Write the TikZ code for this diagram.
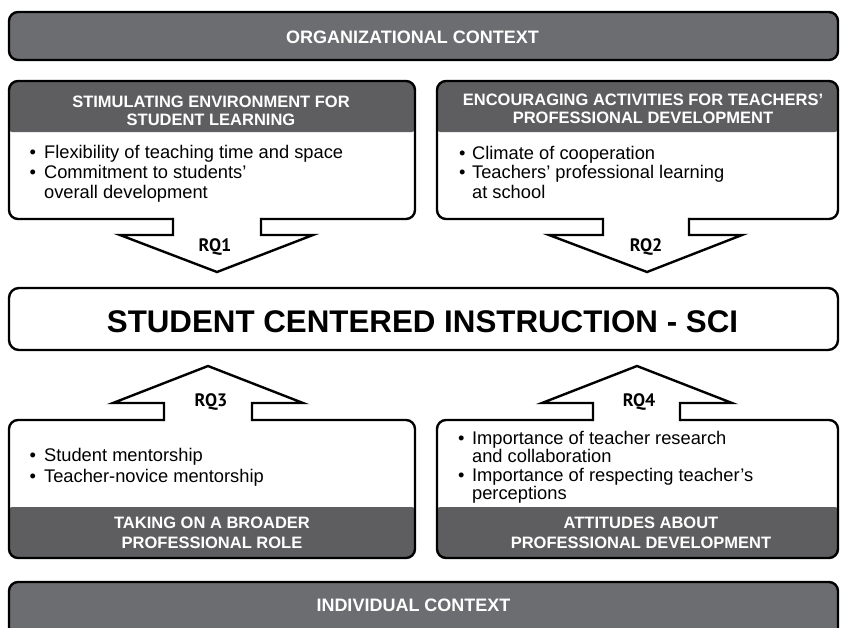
\documentclass[tikz,border=0pt]{standalone}
\usepackage{fontspec}
\setmainfont{Liberation Sans}
\newfontfamily\rqfont{PT Sans}
\definecolor{barfill}{RGB}{108,109,113}
\definecolor{hdrfill}{RGB}{94,94,96}
\tikzset{
  frame/.style={draw=black, line width=2.4pt, rounded corners=9pt, inner sep=0pt, outer sep=0pt, anchor=north west},
  barbox/.style={frame, fill=barfill},
  topbox/.style={frame, fill=white, minimum width=#1, minimum height=138pt,
    path picture={\fill[hdrfill, rounded corners=3pt] ([yshift=5pt]path picture bounding box.north west) rectangle ([yshift=-51pt]path picture bounding box.north east);}},
  botbox/.style={frame, fill=white, minimum width=#1, minimum height=138pt,
    path picture={\fill[hdrfill, rounded corners=3pt] ([yshift=-5pt]path picture bounding box.south west) rectangle ([yshift=51pt]path picture bounding box.south east);}},
  bartext/.style={font=\fontsize{18}{20}\selectfont\bfseries, text=white, inner sep=0pt, anchor=base},
  hdrtext/.style={font=\fontsize{16.5}{#1}\selectfont\bfseries, text=white, inner sep=0pt, anchor=base},
  bodytext/.style={font=\fontsize{18.3}{#1}\selectfont, text=black, inner sep=0pt, anchor=base west},
  rqtext/.style={font=\rqfont\fontsize{18}{20}\selectfont\bfseries, inner sep=0pt, anchor=base},
  blockarrow/.style={draw=black, line width=2.4pt, line join=miter},
}
\begin{document}
\begin{tikzpicture}[x=1pt,y=-1pt]
\useasboundingbox (0,0) rectangle (841,627);
% context bars
\node[barbox, minimum width=829pt, minimum height=48pt] (org) at (9,12) {};
\node[bartext] (orgt) at (412.5,43.5) {ORGANIZATIONAL CONTEXT};
\node[barbox, minimum width=829pt, minimum height=70pt] (ind) at (9,582) {};
\node[bartext] (indt) at (413.5,611.5) {INDIVIDUAL CONTEXT};
% four boxes
\node[topbox=406pt] (b1) at (9,81) {};
\node[topbox=401pt] (b2) at (437,81) {};
\node[botbox=406pt] (b3) at (9,420) {};
\node[botbox=401pt] (b4) at (437,420) {};
% center box
\node[frame, rounded corners=10pt, fill=white, minimum width=829pt, minimum height=62pt] (sci) at (9,288) {};
\node[font=\fontsize{31.3}{36}\selectfont\bfseries, inner sep=0pt, anchor=base] (scit) at (422.5,332) {STUDENT CENTERED INSTRUCTION - SCI};
% headers
\node[hdrtext=18pt] (h1) at (211,107) {\begin{tabular}[t]{@{}c@{}}STIMULATING ENVIRONMENT FOR\\STUDENT LEARNING\end{tabular}};
\node[hdrtext=18pt] (h2) at (643,105) {\begin{tabular}[t]{@{}c@{}}ENCOURAGING ACTIVITIES FOR TEACHERS’\\PROFESSIONAL DEVELOPMENT\end{tabular}};
\node[hdrtext=20pt] (h3) at (212,528) {\begin{tabular}[t]{@{}c@{}}TAKING ON A BROADER\\PROFESSIONAL ROLE\end{tabular}};
\node[hdrtext=20pt] (h4) at (641,528) {\begin{tabular}[t]{@{}c@{}}ATTITUDES ABOUT\\PROFESSIONAL DEVELOPMENT\end{tabular}};
% bodies
\node[bodytext=20pt] (l1) at (29.5,158.5) {\begin{tabular}[t]{@{}l@{\hspace{8pt}}l@{}}•&Flexibility of teaching time and space\\•&Commitment to students’\\&overall development\end{tabular}};
\node[bodytext=19.5pt] (l2) at (459,159) {\begin{tabular}[t]{@{}l@{\hspace{6.5pt}}l@{}}•&Climate of cooperation\\•&Teachers’ professional learning\\&at school\end{tabular}};
\node[bodytext=20.5pt] (l3) at (29.5,461.5) {\begin{tabular}[t]{@{}l@{\hspace{8pt}}l@{}}•&Student mentorship\\•&Teacher-novice mentorship\end{tabular}};
\node[bodytext=18pt] (l4) at (458,444) {\begin{tabular}[t]{@{}l@{\hspace{7.5pt}}l@{}}•&Importance of teacher research\\&and collaboration\\•&Importance of respecting teacher’s\\&perceptions\end{tabular}};
% block arrows
\fill[white] (173,213) -- (173,235) -- (120,235) -- (217,272) -- (313,235) -- (261,235) -- (261,213) -- cycle;
\draw[blockarrow] (173,217.8) -- (173,235) -- (120,235) -- (217,272) -- (313,235) -- (261,235) -- (261,217.8);
\fill[white] (603,213) -- (603,235) -- (549,235) -- (647,272) -- (742,235) -- (689,235) -- (689,213) -- cycle;
\draw[blockarrow] (603,217.8) -- (603,235) -- (549,235) -- (647,272) -- (742,235) -- (689,235) -- (689,217.8);
\fill[white] (164,426) -- (164,403) -- (113,403) -- (208,366) -- (303,403) -- (252,403) -- (252,426) -- cycle;
\draw[blockarrow] (164,421.2) -- (164,403) -- (113,403) -- (208,366) -- (303,403) -- (252,403) -- (252,421.2);
\fill[white] (593,426) -- (593,403) -- (542,403) -- (637,366) -- (732,403) -- (680,403) -- (680,426) -- cycle;
\draw[blockarrow] (593,421.2) -- (593,403) -- (542,403) -- (637,366) -- (732,403) -- (680,403) -- (680,421.2);
% RQ labels
\node[rqtext] (rq1) at (215,251.5) {RQ1};
\node[rqtext] (rq2) at (646,251.5) {RQ2};
\node[rqtext] (rq3) at (211,406.5) {RQ3};
\node[rqtext] (rq4) at (639,406.5) {RQ4};
\end{tikzpicture}
\end{document}
